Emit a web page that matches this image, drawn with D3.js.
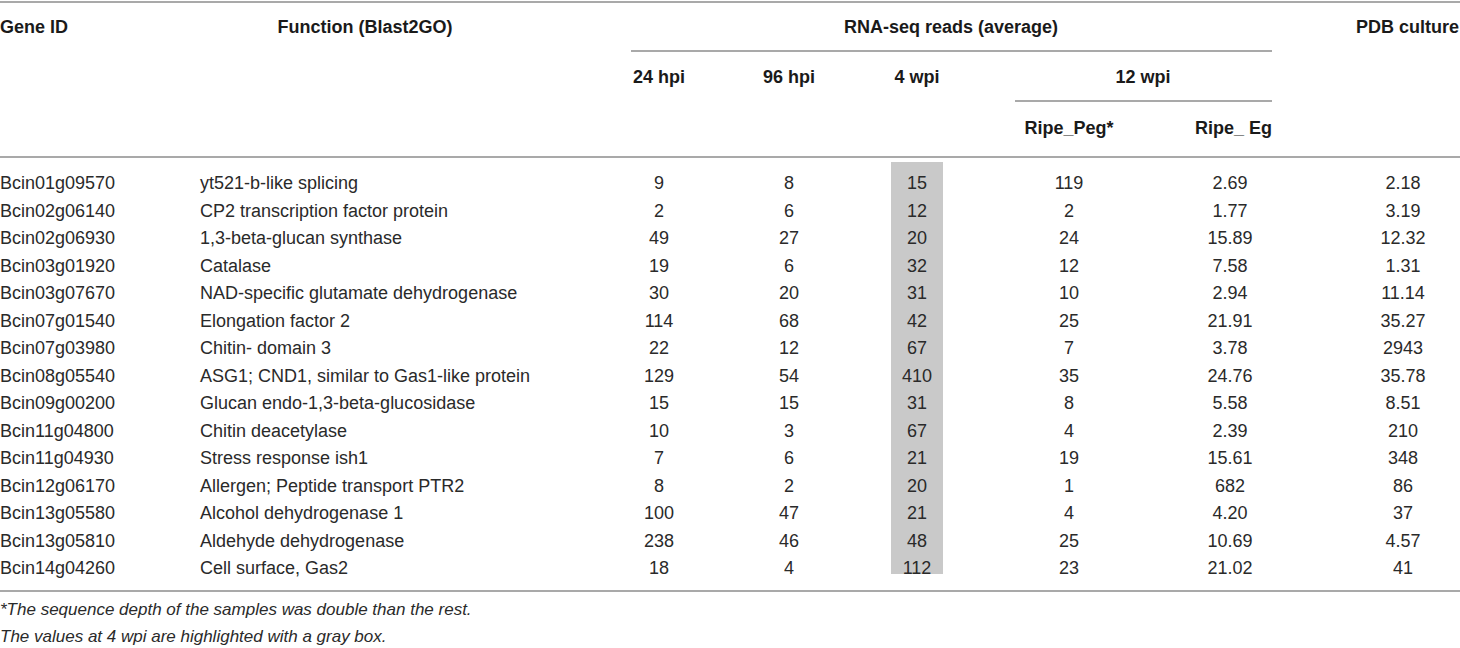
<!DOCTYPE html>
<html>
<head>
<meta charset="utf-8">
<script src="https://cdn.jsdelivr.net/npm/d3@7"></script>
<style>
  html, body { margin: 0; padding: 0; background: #fff; }
  svg { display: block; font-family: "Liberation Sans", Arial, Helvetica, sans-serif; }
  .body { font-size: 18px; fill: #2a2a2a; }
  .head { font-size: 18px; font-weight: bold; fill: #1a1a1a; }
  .note { font-size: 17px; font-style: italic; fill: #2a2a2a; }
</style>
</head>
<body>
<script>
// table data
const geneIds = ["Bcin01g09570", "Bcin02g06140", "Bcin02g06930", "Bcin03g01920", "Bcin03g07670",
    "Bcin07g01540", "Bcin07g03980", "Bcin08g05540", "Bcin09g00200", "Bcin11g04800",
    "Bcin11g04930", "Bcin12g06170", "Bcin13g05580", "Bcin13g05810", "Bcin14g04260"];
const functions = ["yt521-b-like splicing", "CP2 transcription factor protein", "1,3-beta-glucan synthase",
    "Catalase", "NAD-specific glutamate dehydrogenase", "Elongation factor 2", "Chitin- domain 3",
    "ASG1; CND1, similar to Gas1-like protein", "Glucan endo-1,3-beta-glucosidase", "Chitin deacetylase",
    "Stress response ish1", "Allergen; Peptide transport PTR2", "Alcohol dehydrogenase 1",
    "Aldehyde dehydrogenase", "Cell surface, Gas2"];
const hpi24 = ["9", "2", "49", "19", "30", "114", "22", "129", "15", "10", "7", "8", "100", "238", "18"];
const hpi96 = ["8", "6", "27", "6", "20", "68", "12", "54", "15", "3", "6", "2", "47", "46", "4"];
const wpi4 = ["15", "12", "20", "32", "31", "42", "67", "410", "31", "67", "21", "20", "21", "48", "112"];
const ripePeg = ["119", "2", "24", "12", "10", "25", "7", "35", "8", "4", "19", "1", "4", "25", "23"];
const ripeEg = ["2.69", "1.77", "15.89", "7.58", "2.94", "21.91", "3.78", "24.76", "5.58", "2.39",
    "15.61", "682", "4.20", "10.69", "21.02"];
const pdbCulture = ["2.18", "3.19", "12.32", "1.31", "11.14", "35.27", "2943", "35.78", "8.51", "210",
    "348", "86", "37", "4.57", "41"];
const valueColumns = ["24 hpi", "96 hpi", "4 wpi", "Ripe_Peg*", "Ripe_ Eg", "PDB culture"];
const footnotes = ["*The sequence depth of the samples was double than the rest.",
    "The values at 4 wpi are highlighted with a gray box."];

const width = 1460, height = 648;
const svg = d3.select("body").append("svg")
    .attr("width", width)
    .attr("height", height);

// row positions
const y = d3.scalePoint()
    .domain(d3.range(geneIds.length))
    .range([183, 568]);

// column centres for numeric columns
const x = d3.scaleOrdinal()
    .domain(valueColumns)
    .range([659, 789, 917, 1069, 1230, 1403]);

const rule = (x1, x2, yy) => svg.append("line")
    .attr("x1", x1).attr("x2", x2)
    .attr("y1", yy).attr("y2", yy)
    .style("stroke", "#8c8c8c")
    .style("stroke-width", 1.5);

// gray highlight for 4 wpi
svg.append("rect")
    .attr("x", x("4 wpi") - 26)
    .attr("width", 52)
    .attr("y", y(0) - 21)
    .attr("height", y(geneIds.length - 1) - y(0) + 27)
    .attr("fill", "#c9c9c9");

rule(0, width, 2);
rule(631, 1272, 51);
rule(1015, 1272, 101);
rule(0, width, 157);
rule(0, width, 591);

// header text
const head = [
    {t: "Gene ID", x: 0, y: 27, a: "start"},
    {t: "Function (Blast2GO)", x: 365, y: 27, a: "middle"},
    {t: "RNA-seq reads (average)", x: 951, y: 27, a: "middle"},
    {t: "PDB culture", x: 1459, y: 27, a: "end"},
    {t: "24 hpi", x: x("24 hpi"), y: 77, a: "middle"},
    {t: "96 hpi", x: x("96 hpi"), y: 77, a: "middle"},
    {t: "4 wpi", x: x("4 wpi"), y: 77, a: "middle"},
    {t: "12 wpi", x: 1143, y: 77, a: "middle"},
    {t: "Ripe_Peg*", x: x("Ripe_Peg*"), y: 128, a: "middle"},
    {t: "Ripe_ Eg", x: 1272, y: 128, a: "end"}
];
svg.selectAll("text.head")
    .data(head)
    .join("text")
    .attr("class", "head")
    .attr("x", d => d.x)
    .attr("y", d => d.y)
    .attr("dy", "0.35em")
    .attr("text-anchor", d => d.a)
    .text(d => d.t);

// body cells
const columns = [hpi24, hpi96, wpi4, ripePeg, ripeEg, pdbCulture];
const cells = [];
geneIds.forEach((g, i) => {
    cells.push({t: g, x: 0, y: y(i), a: "start"});
    cells.push({t: functions[i], x: 200, y: y(i), a: "start"});
    columns.forEach((col, c) => {
        cells.push({t: col[i], x: x(valueColumns[c]), y: y(i), a: "middle"});
    });
});
svg.selectAll("text.body")
    .data(cells)
    .join("text")
    .attr("class", "body")
    .attr("x", d => d.x)
    .attr("y", d => d.y)
    .attr("dy", "0.35em")
    .attr("text-anchor", d => d.a)
    .text(d => d.t);

svg.selectAll("text.note")
    .data(footnotes)
    .join("text")
    .attr("class", "note")
    .attr("x", 0)
    .attr("y", (d, i) => 609 + i * 27)
    .attr("dy", "0.35em")
    .text(d => d);
</script>
</body>
</html>
